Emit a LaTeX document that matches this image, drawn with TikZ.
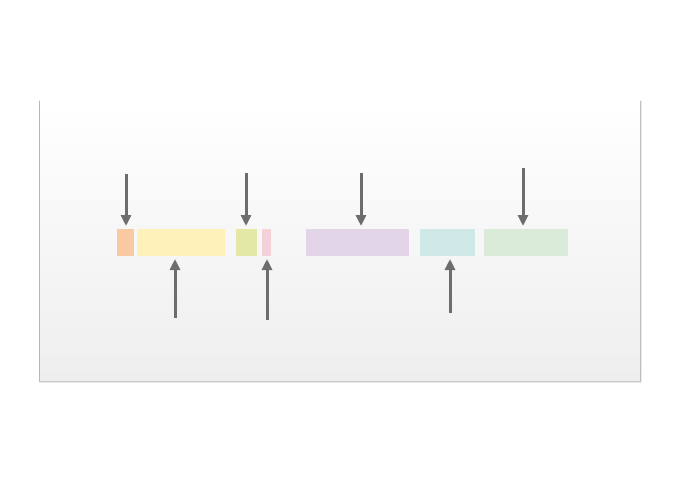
\documentclass[tikz,border=0pt]{standalone}
\usepackage{xcolor}
\usepackage{tikz}
\usetikzlibrary{arrows.meta, positioning}
\definecolor{barorange}{HTML}{F9C9A1}
\definecolor{baryellow}{HTML}{FEF1BA}
\definecolor{barlime}{HTML}{E4E8A6}
\definecolor{barpink}{HTML}{F4D0D9}
\definecolor{barlilac}{HTML}{E1D5E7}
\definecolor{barcyan}{HTML}{CFE8E8}
\definecolor{bargreen}{HTML}{DAECD9}
\definecolor{mydark}{HTML}{6D6D6D}
\definecolor{panelbot}{HTML}{EEEEEE}
\tikzset{
  bar/.style={rectangle, inner sep=0pt, outer sep=0pt,
    minimum height=27pt, anchor=north west},
  arrow/.style={-{Triangle[length=11pt,width=10pt]}, line width=3pt,
    color=mydark, shorten >=3pt},
  shadowlayer/.style={fill=black, fill opacity=0.08}
}

\begin{document}
\begin{tikzpicture}[x=1pt, y=-1pt]
  \useasboundingbox[fill=white] (0,0) rectangle (680,490);

  % Shadow under the panel
  \foreach \s in {0.6,1.2,1.8,2.4,3.0}
    \fill[shadowlayer] (40-\s/2,100+\s/3) rectangle (640+\s/2,380+\s);

  % Panel
  \shade[top color=white, bottom color=panelbot]
    (40,100) rectangle (640,380);

  % Bars
  \node[bar, fill=barorange, minimum width=17pt] (b1) at (117,229) {};
  \node[bar, fill=baryellow, minimum width=88pt] (b2) at (137,229) {};
  \node[bar, fill=barlime, minimum width=21pt] (b3) at (236,229) {};
  \node[bar, fill=barpink, minimum width=9pt] (b4) at (262,229) {};
  \node[bar, fill=barlilac, minimum width=103pt] (b5) at (306,229) {};
  \node[bar, fill=barcyan, minimum width=55pt] (b6) at (420,229) {};
  \node[bar, fill=bargreen, minimum width=84pt] (b7) at (484,229) {};

  % Arrow ends
  \coordinate (d1) at (126,174);
  \coordinate (d3) at (246,173);
  \coordinate (d5) at (361,173);
  \coordinate (d7) at (523,168);
  \coordinate (u2) at (175,318);
  \coordinate (u4) at (267,320);
  \coordinate (u6) at (450,313);

  % Arrows from above
  \draw[arrow] (d1) -- (d1 |- b1.north);
  \draw[arrow] (d3) -- (d3 |- b3.north);
  \draw[arrow] (d5) -- (d5 |- b5.north);
  \draw[arrow] (d7) -- (d7 |- b7.north);

  % Arrows from below
  \draw[arrow] (u2) -- (u2 |- b2.south);
  \draw[arrow] (u4) -- (u4 |- b4.south);
  \draw[arrow] (u6) -- (u6 |- b6.south);
\end{tikzpicture}
\end{document}
